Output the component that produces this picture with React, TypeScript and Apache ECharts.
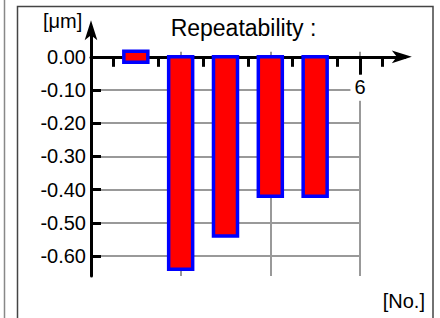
import React, { useEffect, useRef } from 'react';
import * as echarts from 'echarts';

// ---- data ----
const categories = [1, 2, 3, 4, 5];
const values = [0.0, -0.64, -0.54, -0.42, -0.42];
const yTickValues = [0, -0.1, -0.2, -0.3, -0.4, -0.5, -0.6];
const xMajorTicks = [6];
const xLabelValues = [6];
const titleText = 'Repeatability :';
const yUnit = '[μm]';
const xUnit = '[No.]';

// ---- layout ----
const FONT = '"Liberation Sans", Arial, Helvetica, sans-serif';
const Y0 = 56.8; // pixel of value 0
const K = 332; // px per unit (y)
const X0 = 91; // pixel of x = 0
const XU = 44.83; // px per unit (x)
const Y_MIN = -0.66;
const Y_MAX = 0.08;
const Y_MAX_GRID = 0.015;
const X_MAX = 7;
const X_MAX_GRID = 6;
const BAR_W = 24;
const MIN_H = 11;

export default function App() {
  const ref = useRef<HTMLDivElement>(null);
  useEffect(() => {
    if (!ref.current) return;
    const chart = echarts.init(ref.current, null, { renderer: 'svg' });
    const black = '#000';
    const gridColor = '#999';
    const option: any = {
      animation: false,
      backgroundColor: '#fff',
      grid: [
        {
          left: X0,
          top: Y0 - Y_MAX * K,
          width: X_MAX * XU,
          height: (Y_MAX - Y_MIN) * K,
        },
        {
          left: X0,
          top: Y0 - Y_MAX_GRID * K,
          width: X_MAX_GRID * XU,
          height: (Y_MAX_GRID - Y_MIN) * K,
        },
        {
          left: X0,
          top: Y0 - 20,
          width: X_MAX * XU,
          height: 20,
        },
      ],
      xAxis: [
        {
          type: 'value',
          gridIndex: 0,
          min: 0,
          max: X_MAX,
          show: false,
        },
        {
          type: 'value',
          gridIndex: 1,
          min: 0,
          max: X_MAX_GRID,
          interval: 2,
          z: 0,
          axisLine: { show: false },
          axisTick: { show: false },
          axisLabel: { show: false },
          splitLine: { show: true, lineStyle: { color: gridColor, width: 2 } },
        },
        {
          type: 'value',
          gridIndex: 2,
          position: 'bottom',
          min: 0,
          max: X_MAX,
          interval: 1,
          z: 1,
          axisLine: {
            show: true,
            onZero: false,
            symbol: ['none', 'arrow'],
            symbolSize: [9.5, 20],
            symbolOffset: [0, 7],
            lineStyle: { color: black, width: 3 },
          },
          axisTick: {
            show: true,
            customValues: xMajorTicks,
            length: 18,
            lineStyle: { color: black, width: 3 },
          },
          minorTick: {
            show: true,
            splitNumber: 2,
            length: 10,
            lineStyle: { color: black, width: 3 },
          },
          axisLabel: {
            show: true,
            customValues: xLabelValues,
            margin: 18,
            color: black,
            fontSize: 20,
            fontFamily: FONT,
            backgroundColor: '#fff',
            padding: [2, 4, 4, 4],
          },
          splitLine: { show: false },
        },
      ],
      yAxis: [
        {
          type: 'value',
          gridIndex: 0,
          min: Y_MIN,
          max: Y_MAX,
          z: 1,
          axisLine: {
            show: true,
            onZero: false,
            symbol: ['none', 'arrow'],
            symbolSize: [9.5, 20],
            symbolOffset: [0, 10],
            lineStyle: { color: black, width: 3 },
          },
          axisTick: {
            show: true,
            inside: true,
            customValues: yTickValues,
            length: 10,
            lineStyle: { color: black, width: 3 },
          },
          axisLabel: {
            show: true,
            customValues: yTickValues,
            margin: 5,
            color: black,
            fontSize: 20,
            fontFamily: FONT,
            formatter: (v: number) => v.toFixed(2),
          },
          splitLine: { show: false },
        },
        {
          type: 'value',
          gridIndex: 1,
          min: Y_MIN,
          max: Y_MAX_GRID,
          z: 0,
          axisLine: { show: false },
          axisTick: { show: false, customValues: yTickValues },
          axisLabel: { show: false },
          splitLine: { show: true, lineStyle: { color: gridColor, width: 2 } },
        },
        {
          type: 'value',
          gridIndex: 2,
          min: 0,
          max: 1,
          show: false,
        },
      ],
      graphic: [
        {
          type: 'line',
          silent: true,
          shape: { x1: 4.5, y1: 0, x2: 4.5, y2: 318 },
          style: { stroke: '#888', lineWidth: 1.5 },
        },
        {
          type: 'rect',
          silent: true,
          shape: { x: 17.5, y: 6.5, width: 415.5, height: 330 },
          style: { fill: 'none', stroke: '#444', lineWidth: 1.5 },
        },
        {
          type: 'text',
          x: 243.5,
          y: 28,
          style: {
            text: titleText,
            fill: black,
            font: `23px ${FONT}`,
            textAlign: 'center',
            textVerticalAlign: 'middle',
          },
        },
        {
          type: 'text',
          x: 43,
          y: 21,
          style: {
            text: yUnit,
            fill: black,
            font: `20px ${FONT}`,
            textAlign: 'left',
            textVerticalAlign: 'middle',
          },
        },
        {
          type: 'text',
          x: 425,
          y: 301,
          style: {
            text: xUnit,
            fill: black,
            font: `20px ${FONT}`,
            textAlign: 'right',
            textVerticalAlign: 'middle',
          },
        },
      ],
      series: [
        {
          type: 'custom',
          xAxisIndex: 0,
          yAxisIndex: 0,
          z: 3,
          encode: { x: 0, y: 1 },
          data: categories.map((c, i) => [c, values[i]]),
          renderItem: (_params: any, api: any) => {
            const x = api.value(0);
            const v = api.value(1);
            const p0 = api.coord([x, 0]);
            const p1 = api.coord([x, v]);
            let top = Math.min(p0[1], p1[1]);
            let h = Math.abs(p1[1] - p0[1]);
            if (h < MIN_H) {
              top = p0[1] - MIN_H / 2;
              h = MIN_H;
            }
            return {
              type: 'rect',
              shape: { x: p0[0] - BAR_W / 2, y: top, width: BAR_W, height: h },
              style: { fill: '#ff0000', stroke: '#0000ff', lineWidth: 3.5 },
            };
          },
        },
      ],
    };
    chart.setOption(option);
    return () => chart.dispose();
  }, []);
  return (
    <div
      ref={ref}
      style={{ position: 'absolute', left: 0, top: 0, width: 440, height: 318, background: '#fff' }}
    />
  );
}
